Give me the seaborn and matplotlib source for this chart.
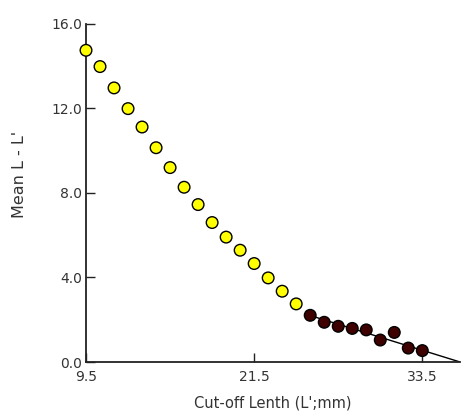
import numpy as np
import pandas as pd
import matplotlib
matplotlib.use("Agg")
import matplotlib.pyplot as plt
import seaborn as sns

# --- data ---
x_yellow = [9.5, 10.5, 11.5, 12.5, 13.5, 14.5, 15.5, 16.5, 17.5, 18.5,
            19.5, 20.5, 21.5, 22.5, 23.5, 24.5]
y_yellow = [14.75, 13.98, 12.97, 11.99, 11.12, 10.14, 9.20, 8.27, 7.45, 6.60,
            5.91, 5.29, 4.66, 3.98, 3.35, 2.75]

x_dark = [25.5, 26.5, 27.5, 28.5, 29.5, 30.5, 31.5, 32.5, 33.5]
y_dark = [2.21, 1.88, 1.69, 1.59, 1.52, 1.04, 1.40, 0.66, 0.54]

x_fit = [25.5, 36.2]
y_fit = [2.2, 0.0]

x_ticks = [9.5, 21.5, 33.5]
y_ticks = [0.0, 4.0, 8.0, 12.0, 16.0]

df = pd.DataFrame({
    "x": x_yellow + x_dark,
    "y": y_yellow + y_dark,
    "grp": ["low"] * len(x_yellow) + ["high"] * len(x_dark),
})
fit = pd.DataFrame({"x": x_fit, "y": y_fit})

# --- style ---
sns.set_style("ticks")
plt.rcParams["font.family"] = ["DejaVu Sans"]
TXT = "#333333"

fig = plt.figure(figsize=(4.7, 4.19), dpi=100)
ax = fig.add_axes([0.183, 0.136, 0.796, 0.807])

sns.lineplot(data=fit, x="x", y="y", color="black", linewidth=1.0, ax=ax, zorder=2)
sns.scatterplot(data=df, x="x", y="y", hue="grp",
                palette={"low": "#FFFF00", "high": "#3F0000"},
                s=70, edgecolor="black", linewidth=1.0, legend=False,
                clip_on=False, zorder=3, ax=ax)

ax.set_xlim(9.5, 36.2)
ax.set_ylim(0, 16)
ax.set_xticks(x_ticks)
ax.set_xticklabels([f"{v:.1f}" for v in x_ticks])
ax.set_yticks(y_ticks)
ax.set_yticklabels([f"{v:.1f}" for v in y_ticks])

sns.despine(ax=ax)
for s in ["left", "bottom"]:
    ax.spines[s].set_color("#222222")
    ax.spines[s].set_linewidth(1.3)

ax.tick_params(direction="in", length=6.5, width=1, color="#222222",
               labelsize=10, labelcolor=TXT)
ax.tick_params(axis="x", pad=6)
ax.tick_params(axis="y", pad=3)

ax.set_xlabel("Cut-off Lenth (L';mm)", fontsize=10.5, color=TXT, labelpad=8)
ax.set_ylabel("Mean L - L'", fontsize=11.5, color=TXT)
ax.yaxis.set_label_coords(-0.158, 0.556)

fig.savefig("out.png", dpi=100, facecolor="white")
